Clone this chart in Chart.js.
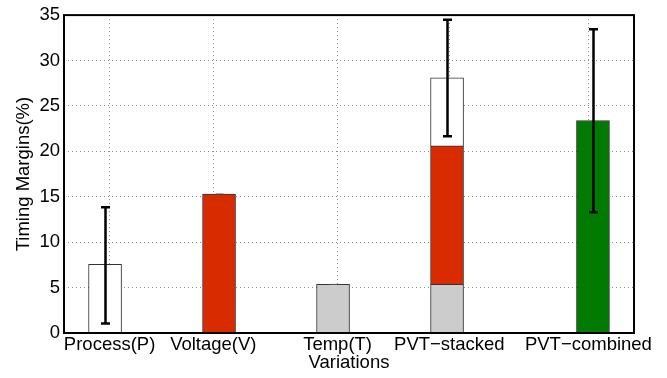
<!DOCTYPE html>
<html>
<head>
<meta charset="utf-8">
<script src="https://cdn.jsdelivr.net/npm/chart.js@4/dist/chart.umd.min.js"></script>
<style>
  html, body { margin: 0; padding: 0; background: #fff; }
  #wrap { width: 667px; height: 378px; }
</style>
</head>
<body>
<div id="wrap"><canvas id="myChart" width="667" height="378"></canvas></div>
<script>
// categories and where their labels / bars sit on the x axis
const categories = ['Process(P)', 'Voltage(V)', 'Temp(T)', 'PVT\u2212stacked', 'PVT\u2212combined'];
const tickPos = [0.9, 1.81, 2.9, 3.88, 5.1];
const barPos = [0.86, 1.86, 2.86, 3.86, 5.14];

// bar segments (null = no bar)
const processVals = [7.55, null, null, 7.5, null];
const voltageVals = [null, 15.3, null, 15.25, null];
const tempVals = [null, null, 5.35, 5.35, null];
const combinedVals = [null, null, null, null, 23.4];

// error bars
const errLow = [1.05, 15.3, 5.35, 21.65, 13.3];
const errHigh = [13.85, 15.3, 5.35, 34.5, 33.45];

const yTicks = [0, 5, 10, 15, 20, 25, 30, 35];

function pts(vals) {
  const out = [];
  vals.forEach(function(v, i) {
    if (v !== null) out.push({x: barPos[i], y: v});
  });
  return out;
}

const font = {family: '"Liberation Sans", Arial, Helvetica, sans-serif', size: 18.5};

const boxAndErrors = {
  id: 'boxAndErrors',
  afterDatasetsDraw(chart) {
    const ctx = chart.ctx;
    const a = chart.chartArea;
    const x = chart.scales.x, y = chart.scales.y;
    ctx.save();
    barPos.forEach(function(p, i) {
      const px = Math.round(x.getPixelForValue(p)) + 0.5;
      const y0 = y.getPixelForValue(errLow[i]);
      const y1 = y.getPixelForValue(errHigh[i]);
      if (errLow[i] === errHigh[i]) {
        ctx.strokeStyle = '#555';
        ctx.lineWidth = 1;
        ctx.beginPath();
        ctx.moveTo(px - 4, y0); ctx.lineTo(px + 4, y0);
        ctx.stroke();
        return;
      }
      ctx.strokeStyle = '#000';
      ctx.lineWidth = 2.5;
      ctx.beginPath();
      ctx.moveTo(px, y0); ctx.lineTo(px, y1);
      ctx.moveTo(px - 4.5, y0); ctx.lineTo(px + 4.5, y0);
      ctx.moveTo(px - 4.5, y1); ctx.lineTo(px + 4.5, y1);
      ctx.stroke();
    });
    ctx.strokeStyle = '#000';
    ctx.lineWidth = 2;
    ctx.strokeRect(a.left, a.top, a.right - a.left, a.bottom - a.top);
    ctx.restore();
  }
};

const barStyle = {borderColor: '#333', borderWidth: 1, barThickness: 33, borderSkipped: 'start'};

new Chart('myChart', {
  type: 'bar',
  data: {
    datasets: [
      Object.assign({label: 'T', data: pts(tempVals), backgroundColor: '#cccccc'}, barStyle),
      Object.assign({label: 'V', data: pts(voltageVals), backgroundColor: '#d92b00'}, barStyle),
      Object.assign({label: 'P', data: pts(processVals), backgroundColor: '#ffffff'}, barStyle),
      Object.assign({label: 'PVT', data: pts(combinedVals), backgroundColor: '#007a00'}, barStyle)
    ]
  },
  options: {
    responsive: false,
    animation: false,
    layout: {padding: {top: 10, right: 33, left: 0, bottom: 0}},
    plugins: {legend: {display: false}, tooltip: {enabled: false}},
    scales: {
      x: {
        type: 'linear',
        stacked: true,
        offset: false,
        min: 0.5,
        max: 5.5,
        afterBuildTicks: function(scale) {
          scale.ticks = tickPos.map(function(v) { return {value: v}; });
        },
        afterFit: function(scale) { scale.height = 45; },
        ticks: {
          autoSkip: false,
          maxRotation: 0,
          padding: 1,
          color: '#000',
          font: font,
          callback: function(v) { return categories[tickPos.indexOf(v)]; }
        },
        grid: {color: '#8a8a8a', drawTicks: false, offset: false},
        border: {display: false, dash: [1, 3]},
        title: {display: true, text: 'Variations', color: '#000', font: font, padding: {top: 0, bottom: 4}}
      },
      y: {
        stacked: true,
        min: 0,
        max: 35,
        afterBuildTicks: function(scale) {
          scale.ticks = yTicks.map(function(v) { return {value: v}; });
        },
        afterFit: function(scale) { scale.width = 64; },
        ticks: {padding: 4, color: '#000', font: font},
        grid: {color: '#8a8a8a', drawTicks: false},
        border: {display: false, dash: [1, 3]},
        title: {display: true, text: 'Timing Margins(%)', color: '#000', font: font, padding: {top: 13, bottom: 0}}
      }
    }
  },
  plugins: [boxAndErrors]
});
</script>
</body>
</html>
